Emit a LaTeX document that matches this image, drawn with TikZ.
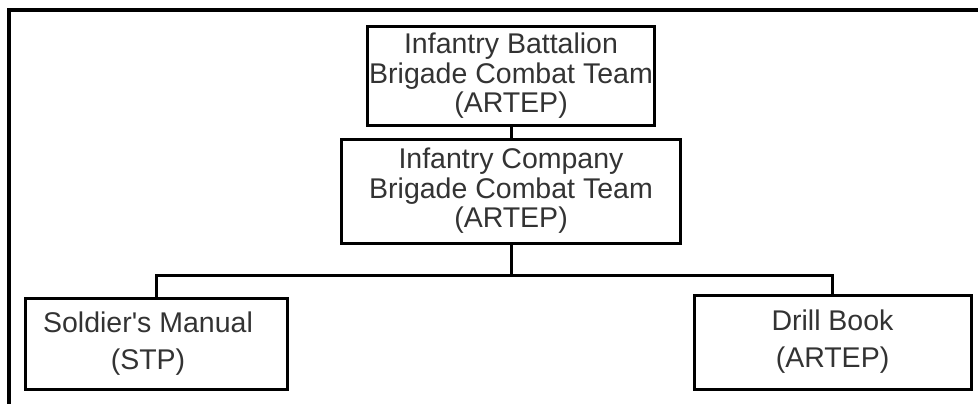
\documentclass[tikz,border=0pt]{standalone}
\usepackage{fontspec}
\setmainfont{Liberation Sans}
\tikzset{
  unit/.style={draw, line width=3pt, align=center, inner sep=0pt,
    text=black!80, font=\fontsize{28.5}{29.5}\selectfont},
  leaf/.style={unit, font=\fontsize{28.5}{37}\selectfont},
  link/.style={line width=3pt}
}
\begin{document}
\begin{tikzpicture}[x=1pt,y=-1pt]
      \useasboundingbox (0,0) rectangle (978,404);
      \draw[line width=4pt] (978,10) -- (9,10) -- (9,404);
      \draw
        (511,76) node[unit, minimum width=287pt, minimum height=98pt] (bn)
          {Infantry Battalion\\Brigade Combat Team\\(ARTEP)}
        (511,191) node[unit, minimum width=339pt, minimum height=104pt] (co)
          {Infantry Company\\Brigade Combat Team\\(ARTEP)}
        (156,343.5) node[leaf, minimum width=262pt, minimum height=91pt] (sm)
          {\hspace*{-16pt}Soldier\textquotesingle s Manual\\\hspace*{-16pt}(STP)}
        (832.5,342) node[leaf, minimum width=277pt, minimum height=94pt] (db)
          {Drill Book\\(ARTEP)};
      \begin{scope}[link]
        \draw (bn) to (co);
        \draw (co.south) -- ++(0,31) coordinate (bus);
        \draw (bus) -| (sm.north);
        \draw (bus) -| (db.north);
      \end{scope}
    \end{tikzpicture}
\end{document}
